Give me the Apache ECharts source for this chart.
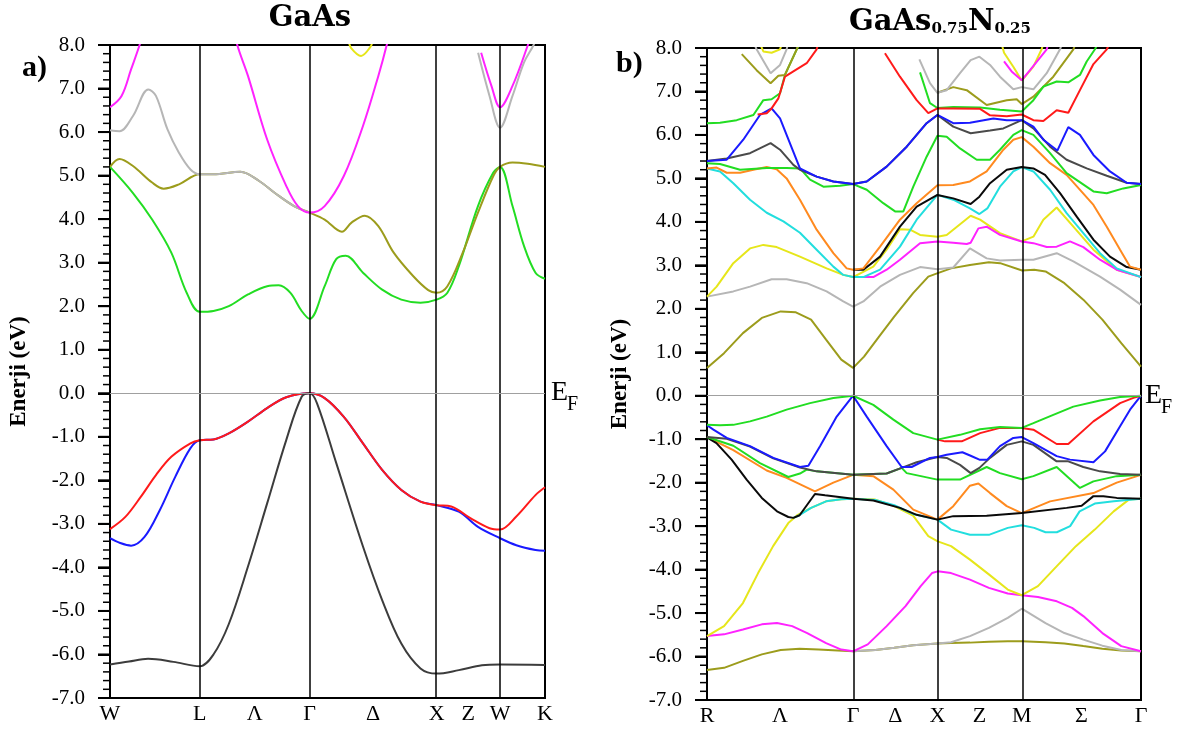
<!DOCTYPE html>
<html>
<head>
<meta charset="utf-8">
<script src="https://cdn.jsdelivr.net/npm/echarts@6/dist/echarts.min.js"></script>
<style>
  html, body { margin: 0; padding: 0; background: #fff; }
  #chart { width: 1184px; height: 733px; }
</style>
</head>
<body>
<div id="chart"></div>
<script>
// k-path, units of 2pi/a
var leftTicks = [0, 0.707, 1.14, 1.573, 2.073, 2.573, 2.823, 3.073, 3.427];
var leftTickNames = ['W', 'L', 'Λ', 'Γ', 'Δ', 'X', 'Z', 'W', 'K'];
var leftLines = [0.707, 1.573, 2.573, 3.073];
var rightTicks = [0, 0.433, 0.866, 1.116, 1.366, 1.616, 1.866, 2.22, 2.573];
var rightTickNames = ['R', 'Λ', 'Γ', 'Δ', 'X', 'Z', 'M', 'Σ', 'Γ'];
var rightLines = [0.866, 1.366, 1.866];
var yRange = [-7, 8];
var yStep = 1;
var yMinorPerStep = 5;

// ---- a) GaAs bands [k, E] ----
var gaasBlack = [[0,-6.23],[0.15,-6.16],[0.30,-6.10],[0.5,-6.17],[0.707,-6.27],[0.815,-6.0],[0.936,-5.3],[1.087,-3.98],[1.238,-2.53],[1.389,-1.07],[1.51,-0.08],[1.573,0],[1.631,-0.23],[1.782,-1.6],[1.993,-3.52],[2.144,-4.75],[2.295,-5.75],[2.446,-6.32],[2.573,-6.44],[2.748,-6.36],[2.93,-6.25],[3.073,-6.23],[3.427,-6.24]];
var gaasBlue = [[0,-3.33],[0.08,-3.44],[0.166,-3.5],[0.272,-3.3],[0.393,-2.68],[0.514,-1.92],[0.634,-1.26],[0.707,-1.08],[0.815,-1.06],[0.936,-0.92],[1.087,-0.65],[1.238,-0.34],[1.389,-0.09],[1.573,0],[1.691,-0.11],[1.842,-0.54],[1.993,-1.15],[2.144,-1.76],[2.295,-2.22],[2.446,-2.49],[2.573,-2.57],[2.748,-2.72],[2.899,-3.07],[3.073,-3.33],[3.201,-3.49],[3.352,-3.6],[3.427,-3.62]];
var gaasRed = [[0,-3.12],[0.121,-2.84],[0.242,-2.38],[0.362,-1.88],[0.483,-1.46],[0.634,-1.15],[0.707,-1.08],[0.815,-1.06],[0.936,-0.92],[1.087,-0.65],[1.238,-0.34],[1.389,-0.09],[1.573,0],[1.691,-0.11],[1.842,-0.54],[1.993,-1.15],[2.144,-1.76],[2.295,-2.22],[2.446,-2.49],[2.573,-2.57],[2.688,-2.6],[2.839,-2.87],[2.99,-3.1],[3.073,-3.13],[3.201,-2.83],[3.352,-2.34],[3.427,-2.16]];
var gaasGreen = [[0,5.2],[0.181,4.6],[0.332,3.99],[0.483,3.23],[0.604,2.31],[0.707,1.87],[0.815,1.89],[0.936,2.0],[1.087,2.27],[1.238,2.46],[1.329,2.48],[1.42,2.31],[1.51,1.89],[1.573,1.71],[1.691,2.46],[1.782,3.08],[1.857,3.16],[1.993,2.77],[2.144,2.38],[2.295,2.15],[2.446,2.08],[2.573,2.15],[2.658,2.31],[2.748,2.92],[2.899,4.3],[3.02,5.07],[3.073,5.2],[3.171,4.3],[3.262,3.38],[3.352,2.77],[3.427,2.63]];
var gaasOlive = [[0,5.2],[0.075,5.38],[0.181,5.22],[0.332,4.84],[0.423,4.7],[0.544,4.8],[0.707,5.03],[0.815,5.03],[1.027,5.09],[1.178,4.87],[1.299,4.6],[1.45,4.3],[1.573,4.15],[1.691,3.99],[1.827,3.71],[1.903,3.92],[2.008,4.08],[2.114,3.84],[2.235,3.23],[2.386,2.7],[2.507,2.37],[2.573,2.31],[2.658,2.46],[2.779,3.23],[2.899,4.15],[3.02,4.99],[3.073,5.2],[3.171,5.3],[3.292,5.27],[3.427,5.2]];
var gaasGray1 = [[0,6.04],[0.075,6.02],[0.181,6.37],[0.302,6.98],[0.362,6.83],[0.453,6.06],[0.544,5.52],[0.634,5.14],[0.707,5.03],[0.815,5.03],[1.027,5.09],[1.178,4.87],[1.299,4.6],[1.45,4.3],[1.573,4.15]];
var gaasGray2 = [[2.90,7.82],[2.99,6.83],[3.073,6.1],[3.171,6.83],[3.262,7.6],[3.337,8.0],[3.36,8.2]];
var gaasMagenta1 = [[0,6.57],[0.091,6.83],[0.166,7.44],[0.233,8.0],[0.26,8.3]];
var gaasMagenta2 = [[0.98,8.4],[1.003,8.0],[1.087,7.29],[1.238,5.83],[1.389,4.76],[1.48,4.3],[1.573,4.15],[1.691,4.3],[1.842,4.99],[1.993,6.14],[2.114,7.29],[2.18,8.0],[2.2,8.3]];
var gaasMagenta3 = [[2.924,7.82],[3.005,7.06],[3.073,6.57],[3.171,7.06],[3.292,8.0],[3.31,8.2]];
var gaasYellow = [[1.88,8.1],[1.90,7.93],[1.978,7.75],[2.05,7.95],[2.07,8.1]];

// ---- b) GaAs0.75N0.25 bands [k, E] ----
var nOliveV = [[0,-6.31],[0.101,-6.26],[0.213,-6.1],[0.325,-5.95],[0.437,-5.85],[0.549,-5.82],[0.662,-5.84],[0.774,-5.86],[0.866,-5.88],[0.998,-5.85],[1.110,-5.8],[1.222,-5.74],[1.366,-5.7],[1.447,-5.69],[1.559,-5.68],[1.671,-5.66],[1.783,-5.65],[1.866,-5.65],[2.007,-5.67],[2.119,-5.7],[2.231,-5.76],[2.344,-5.82],[2.456,-5.86],[2.573,-5.88]];
var nGrayV = [[0.866,-5.88],[0.998,-5.85],[1.110,-5.8],[1.222,-5.74],[1.366,-5.7],[1.447,-5.67],[1.559,-5.53],[1.671,-5.34],[1.783,-5.11],[1.866,-4.9],[2.007,-5.23],[2.119,-5.46],[2.231,-5.61],[2.344,-5.75],[2.456,-5.85],[2.573,-5.88]];
var nMagentaV = [[0,-5.53],[0.101,-5.49],[0.213,-5.38],[0.325,-5.26],[0.415,-5.23],[0.505,-5.3],[0.594,-5.46],[0.706,-5.69],[0.796,-5.84],[0.866,-5.88],[0.953,-5.72],[1.065,-5.3],[1.177,-4.84],[1.267,-4.38],[1.334,-4.08],[1.368,-4.04],[1.447,-4.08],[1.559,-4.23],[1.671,-4.42],[1.783,-4.55],[1.866,-4.59],[1.962,-4.63],[2.074,-4.73],[2.164,-4.88],[2.231,-5.07],[2.344,-5.46],[2.456,-5.76],[2.573,-5.88]];
var nYellowV = [[0,-5.53],[0.101,-5.3],[0.213,-4.77],[0.303,-4.08],[0.392,-3.46],[0.482,-2.93],[0.538,-2.74],[0.617,-2.58],[0.706,-2.43],[0.796,-2.38],[0.866,-2.37],[0.998,-2.39],[1.110,-2.54],[1.222,-2.76],[1.312,-3.23],[1.368,-3.35],[1.447,-3.46],[1.559,-3.77],[1.671,-4.11],[1.783,-4.46],[1.866,-4.59],[1.962,-4.38],[2.074,-3.92],[2.187,-3.46],[2.299,-3.08],[2.411,-2.66],[2.501,-2.39],[2.573,-2.37]];
var nCyanV = [[0.512,-2.81],[0.538,-2.77],[0.617,-2.58],[0.706,-2.43],[0.796,-2.38],[0.866,-2.37],[0.998,-2.4],[1.110,-2.52],[1.222,-2.72],[1.366,-2.85],[1.447,-3.08],[1.559,-3.2],[1.671,-3.2],[1.783,-3.04],[1.866,-2.98],[1.940,-3.04],[2.007,-3.14],[2.074,-3.14],[2.153,-3.0],[2.209,-2.66],[2.299,-2.48],[2.411,-2.43],[2.573,-2.37]];
var nOrangeV = [[0,-0.95],[0.156,-1.25],[0.354,-1.72],[0.472,-1.89],[0.64,-2.2],[0.749,-2.0],[0.866,-1.82],[0.986,-1.85],[1.105,-2.16],[1.223,-2.62],[1.366,-2.85],[1.46,-2.54],[1.559,-2.07],[1.609,-2.02],[1.678,-2.24],[1.777,-2.54],[1.866,-2.7],[2.034,-2.43],[2.291,-2.24],[2.429,-2.0],[2.573,-1.82]];
var nBlackV = [[0,-0.96],[0.056,-1.09],[0.146,-1.47],[0.235,-1.93],[0.325,-2.35],[0.415,-2.66],[0.482,-2.79],[0.512,-2.81],[0.549,-2.75],[0.64,-2.26],[0.70,-2.29],[0.866,-2.37],[0.986,-2.41],[1.144,-2.58],[1.243,-2.74],[1.366,-2.85],[1.460,-2.77],[1.658,-2.76],[1.866,-2.7],[2.132,-2.58],[2.221,-2.53],[2.291,-2.31],[2.350,-2.31],[2.429,-2.35],[2.573,-2.37]];
var nGreen2V = [[0,-0.95],[0.156,-1.15],[0.314,-1.55],[0.482,-1.87],[0.551,-1.79],[0.591,-1.70],[0.650,-1.74],[0.866,-1.82],[1.065,-1.79],[1.154,-1.66],[1.184,-1.78],[1.366,-1.93],[1.5,-1.93],[1.658,-1.64],[1.737,-1.78],[1.866,-1.92],[1.935,-1.85],[2.073,-1.64],[2.211,-2.12],[2.291,-1.97],[2.429,-1.85],[2.573,-1.82]];
var nDarkV = [[0,-0.95],[0.117,-0.99],[0.255,-1.17],[0.393,-1.44],[0.551,-1.65],[0.650,-1.74],[0.866,-1.82],[1.065,-1.79],[1.154,-1.66],[1.243,-1.53],[1.366,-1.41],[1.421,-1.43],[1.50,-1.59],[1.563,-1.78],[1.615,-1.66],[1.678,-1.43],[1.777,-1.13],[1.866,-1.05],[1.935,-1.13],[2.073,-1.51],[2.142,-1.51],[2.231,-1.64],[2.330,-1.74],[2.449,-1.80],[2.573,-1.82]];
var nBlueV = [[0,-0.68],[0.038,-0.78],[0.117,-0.97],[0.255,-1.16],[0.393,-1.43],[0.551,-1.64],[0.601,-1.61],[0.670,-1.16],[0.769,-0.48],[0.866,0],[0.947,-0.48],[1.065,-1.16],[1.154,-1.64],[1.213,-1.64],[1.322,-1.43],[1.366,-1.41],[1.421,-1.36],[1.514,-1.30],[1.563,-1.38],[1.615,-1.47],[1.662,-1.47],[1.737,-1.16],[1.816,-0.97],[1.866,-0.95],[1.935,-1.09],[2.073,-1.39],[2.152,-1.47],[2.291,-1.53],[2.360,-1.28],[2.449,-0.7],[2.508,-0.32],[2.573,0]];
var nRedV = [[1.366,-1.01],[1.411,-1.05],[1.51,-1.05],[1.619,-0.86],[1.737,-0.74],[1.866,-0.74],[1.935,-0.78],[2.073,-1.11],[2.142,-1.11],[2.291,-0.59],[2.449,-0.17],[2.528,-0.05],[2.573,0]];
var nGreenV = [[0,-0.67],[0.077,-0.68],[0.156,-0.67],[0.255,-0.59],[0.354,-0.48],[0.472,-0.32],[0.611,-0.17],[0.749,-0.05],[0.866,0],[0.986,-0.21],[1.105,-0.55],[1.223,-0.86],[1.366,-1.01],[1.5,-0.9],[1.619,-0.77],[1.737,-0.72],[1.866,-0.74],[1.935,-0.63],[2.053,-0.44],[2.172,-0.25],[2.330,-0.11],[2.449,-0.03],[2.573,0]];

var nOliveC = [[0,0.64],[0.101,0.98],[0.213,1.44],[0.325,1.79],[0.437,1.94],[0.527,1.92],[0.617,1.75],[0.706,1.29],[0.796,0.83],[0.866,0.64],[0.931,0.9],[1.020,1.36],[1.110,1.82],[1.222,2.36],[1.312,2.74],[1.368,2.82],[1.447,2.93],[1.559,3.01],[1.671,3.07],[1.738,3.05],[1.868,2.88],[1.940,2.9],[2.007,2.86],[2.119,2.59],[2.231,2.21],[2.344,1.75],[2.456,1.21],[2.573,0.67]];
var nGrayC = [[0,2.28],[0.156,2.4],[0.255,2.51],[0.383,2.68],[0.472,2.68],[0.591,2.59],[0.709,2.4],[0.808,2.17],[0.866,2.05],[0.927,2.17],[1.026,2.51],[1.144,2.78],[1.263,2.96],[1.366,2.91],[1.46,2.95],[1.559,3.39],[1.658,3.16],[1.737,3.11],[1.866,3.13],[1.935,3.13],[2.073,3.28],[2.172,3.09],[2.330,2.74],[2.449,2.44],[2.573,2.09]];
var nYellowC = [[0,2.28],[0.057,2.51],[0.156,3.05],[0.255,3.39],[0.334,3.47],[0.413,3.42],[0.551,3.2],[0.709,2.93],[0.808,2.78],[0.866,2.73],[0.986,2.97],[1.065,3.36],[1.144,3.83],[1.204,3.82],[1.263,3.70],[1.366,3.66],[1.421,3.7],[1.563,4.14],[1.619,4.05],[1.737,3.74],[1.866,3.55],[1.935,3.66],[1.994,4.05],[2.073,4.33],[2.172,3.89],[2.291,3.36],[2.429,2.9],[2.573,2.73]];
var nMagentaC = [[0.866,2.73],[0.986,2.73],[1.065,2.9],[1.144,3.13],[1.263,3.51],[1.366,3.55],[1.460,3.52],[1.540,3.49],[1.563,3.52],[1.609,3.85],[1.658,3.89],[1.737,3.70],[1.866,3.55],[1.935,3.51],[2.014,3.42],[2.073,3.43],[2.152,3.55],[2.231,3.42],[2.330,3.13],[2.429,2.9],[2.573,2.73]];
var nCyanC = [[0,5.23],[0.077,5.16],[0.156,4.89],[0.255,4.51],[0.354,4.21],[0.453,4.01],[0.551,3.75],[0.650,3.36],[0.749,2.97],[0.808,2.78],[0.866,2.73],[0.927,2.73],[1.026,2.9],[1.144,3.43],[1.243,4.05],[1.366,4.62],[1.460,4.51],[1.559,4.31],[1.615,4.18],[1.662,4.31],[1.737,4.81],[1.816,5.16],[1.866,5.26],[1.935,5.16],[2.034,4.74],[2.132,4.2],[2.231,3.74],[2.330,3.28],[2.429,2.93],[2.573,2.73]];
var nBlackC = [[0.866,2.9],[0.927,2.9],[1.026,3.2],[1.144,3.89],[1.243,4.35],[1.366,4.62],[1.460,4.54],[1.563,4.41],[1.615,4.58],[1.678,4.89],[1.777,5.2],[1.866,5.26],[1.935,5.23],[2.004,5.08],[2.093,4.66],[2.192,4.12],[2.291,3.59],[2.389,3.2],[2.488,2.96],[2.573,2.9]];
var nOrangeC = [[0,5.23],[0.057,5.25],[0.117,5.13],[0.196,5.13],[0.275,5.2],[0.354,5.26],[0.413,5.21],[0.472,5.0],[0.551,4.51],[0.650,3.82],[0.749,3.28],[0.828,2.93],[0.866,2.9],[0.927,2.93],[1.026,3.43],[1.144,4.05],[1.243,4.43],[1.366,4.84],[1.460,4.85],[1.559,4.93],[1.658,5.16],[1.757,5.66],[1.816,5.89],[1.866,5.95],[1.935,5.73],[2.034,5.35],[2.132,5.08],[2.291,4.39],[2.370,3.89],[2.449,3.36],[2.508,2.97],[2.573,2.9]];
var nGreenC = [[0,5.35],[0.077,5.33],[0.196,5.2],[0.354,5.24],[0.472,5.24],[0.551,5.23],[0.611,4.97],[0.690,4.81],[0.789,4.83],[0.866,4.87],[0.947,4.74],[1.045,4.43],[1.115,4.24],[1.164,4.24],[1.223,4.81],[1.302,5.5],[1.366,5.98],[1.421,5.96],[1.50,5.69],[1.599,5.43],[1.678,5.43],[1.737,5.66],[1.816,6.0],[1.866,6.11],[1.935,6.0],[2.034,5.58],[2.132,5.12],[2.291,4.7],[2.370,4.66],[2.468,4.77],[2.573,4.85]];
var nDarkC = [[0,5.4],[0.117,5.46],[0.255,5.58],[0.377,5.81],[0.433,5.66],[0.512,5.31],[0.551,5.2],[0.650,5.04],[0.749,4.93],[0.866,4.87],[0.947,4.93],[1.065,5.27],[1.184,5.73],[1.302,6.27],[1.366,6.46],[1.460,6.19],[1.563,6.04],[1.678,6.1],[1.757,6.15],[1.866,6.34],[1.935,6.15],[2.034,5.73],[2.132,5.43],[2.251,5.23],[2.370,5.06],[2.488,4.9],[2.573,4.87]];
var nBlueC = [[0,5.4],[0.117,5.43],[0.215,5.89],[0.314,6.46],[0.383,6.61],[0.433,6.38],[0.551,5.23],[0.650,5.04],[0.749,4.93],[0.866,4.87],[0.947,4.93],[1.065,5.27],[1.184,5.73],[1.302,6.27],[1.366,6.46],[1.460,6.27],[1.559,6.28],[1.698,6.38],[1.777,6.34],[1.866,6.34],[1.935,6.19],[1.994,5.89],[2.077,5.64],[2.142,6.18],[2.211,6.0],[2.291,5.54],[2.389,5.16],[2.488,4.9],[2.573,4.87]];
var nGreenC2 = [[0,6.27],[0.077,6.28],[0.176,6.34],[0.275,6.46],[0.334,6.8],[0.383,6.82],[0.433,6.96],[0.462,7.38],[0.532,7.97],[0.55,8.1]];
var nRedC1 = [[0.30,6.47],[0.354,6.5],[0.383,6.61],[0.423,6.84],[0.462,7.34],[0.512,7.46],[0.591,7.65],[0.650,7.97],[0.66,8.1]];
var nOliveT1 = [[0.206,7.86],[0.294,7.49],[0.377,7.19],[0.423,7.36],[0.462,7.38],[0.532,7.97],[0.54,8.05]];
var nGrayT1 = [[0.28,8.1],[0.294,7.97],[0.377,7.42],[0.433,7.61],[0.472,7.97],[0.48,8.1]];
var nYellowT1 = [[0.32,8.05],[0.334,7.92],[0.383,7.89],[0.433,7.97],[0.44,8.05]];
var nRedC2 = [[1.055,7.88],[1.144,7.34],[1.243,6.8],[1.312,6.5],[1.366,6.61],[1.460,6.61],[1.619,6.6],[1.678,6.45],[1.777,6.43],[1.866,6.47],[1.935,6.34],[1.994,6.32],[2.073,6.57],[2.142,6.51],[2.211,7.03],[2.291,7.63],[2.370,7.97],[2.38,8.05]];
var nGreenC3 = [[1.263,7.44],[1.322,6.73],[1.366,6.62],[1.460,6.64],[1.619,6.63],[1.737,6.58],[1.866,6.54],[1.935,6.8],[1.994,7.11],[2.073,7.23],[2.142,7.21],[2.211,7.38],[2.251,7.69],[2.300,7.97],[2.31,8.05]];
var nGrayT2 = [[1.259,7.74],[1.322,7.19],[1.366,6.97],[1.421,7.03],[1.5,7.42],[1.563,7.72],[1.615,7.8],[1.678,7.61],[1.737,7.34],[1.816,7.05],[1.866,7.1],[1.935,7.05],[2.014,7.42],[2.093,7.97],[2.1,8.05]];
var nOliveT2 = [[1.366,6.97],[1.460,7.1],[1.540,7.03],[1.658,6.69],[1.777,6.8],[1.836,6.82],[1.866,6.71],[1.935,6.88],[2.053,7.34],[2.172,7.97],[2.18,8.05]];
var nYellowT2 = [[1.75,8.05],[1.761,7.89],[1.816,7.57],[1.866,7.25],[1.935,7.57],[1.984,7.97],[1.99,8.05]];
var nMagentaT2 = [[1.761,7.69],[1.806,7.46],[1.866,7.26],[1.915,7.49],[2.014,7.97],[2.02,8.05]];

var C = {
  black: '#3c3c3c', red: '#ff1a1a', blue: '#1a1aff', green: '#22dd22', olive: '#9c9c1c',
  gray: '#b6b6b6', magenta: '#ff22ff', yellow: '#e6e61a', orange: '#ff8a1f', cyan: '#22dede',
  dark: '#4a4a4a', ink: '#0a0a0a'
};

var leftBands = [
  [gaasBlue, C.blue], [gaasRed, C.red], [gaasBlack, C.black],
  [gaasGreen, C.green], [gaasOlive, C.olive], [gaasGray1, C.gray], [gaasGray2, C.gray],
  [gaasMagenta1, C.magenta], [gaasMagenta2, C.magenta], [gaasMagenta3, C.magenta], [gaasYellow, C.yellow]
];
var rightBands = [
  [nOliveV, C.olive], [nGrayV, C.gray], [nMagentaV, C.magenta], [nYellowV, C.yellow], [nCyanV, C.cyan],
  [nOrangeV, C.orange], [nBlackV, C.ink], [nGreen2V, C.green], [nDarkV, C.dark], [nBlueV, C.blue],
  [nRedV, C.red], [nGreenV, C.green],
  [nOliveC, C.olive], [nGrayC, C.gray], [nYellowC, C.yellow], [nMagentaC, C.magenta], [nCyanC, C.cyan],
  [nBlackC, C.ink], [nOrangeC, C.orange], [nGreenC, C.green], [nDarkC, C.dark], [nBlueC, C.blue],
  [nGreenC2, C.green], [nRedC1, C.red], [nOliveT1, C.olive], [nGrayT1, C.gray], [nYellowT1, C.yellow],
  [nOliveT2, C.olive], [nGrayT2, C.gray], [nGreenC3, C.green], [nRedC2, C.red],
  [nYellowT2, C.yellow], [nMagentaT2, C.magenta]
];

var serif = '"Liberation Serif", "DejaVu Serif", serif';
var majorLen = 12, minorLen = 7;

function tickName(ticks, names) {
  return function (v) {
    for (var i = 0; i < ticks.length; i++) {
      if (Math.abs(ticks[i] - v) < 1e-6) return names[i];
    }
    return '';
  };
}

function makeX(i, maxK, ticks, names) {
  return {
    gridIndex: i, type: 'value', min: 0, max: maxK,
    axisLine: { show: true, onZero: false, lineStyle: { color: '#000', width: 2 } },
    axisTick: { show: false },
    splitLine: { show: false },
    axisLabel: {
      customValues: ticks, formatter: tickName(ticks, names),
      showMinLabel: true, showMaxLabel: true,
      fontFamily: serif, fontSize: 22, color: '#000', margin: 5
    }
  };
}

function makeY(i, gap) {
  return {
    gridIndex: i, type: 'value', position: 'left', min: yRange[0], max: yRange[1], interval: yStep,
    axisLine: { show: true, onZero: false, lineStyle: { color: '#000', width: 2 } },
    axisTick: { show: true, inside: false, length: majorLen, lineStyle: { color: '#000', width: 2 } },
    splitLine: { show: false },
    axisLabel: {
      show: true,
      formatter: function (v) { return v.toFixed(1); },
      fontFamily: serif, fontSize: 21, color: '#000', margin: 25
    },
    name: 'Enerji (eV)', nameLocation: 'middle', nameRotate: 90, nameGap: gap,
    nameTextStyle: { fontFamily: serif, fontWeight: 'bold', fontSize: 23, color: '#000' }
  };
}

function guides(lines) {
  var d = lines.map(function (v) {
    return { xAxis: v, lineStyle: { color: '#000', width: 1.5, type: 'solid' } };
  });
  d.push({ yAxis: 0, lineStyle: { color: '#a0a0a0', width: 1, type: 'solid' } });
  return { silent: true, symbol: ['none', 'none'], label: { show: false }, data: d, animation: false };
}

var series = [];
function addBands(list, gi, smooth, lines) {
  list.forEach(function (b, j) {
    var s = {
      type: 'line', xAxisIndex: gi, yAxisIndex: gi, data: b[0],
      showSymbol: false, smooth: smooth, clip: true,
      lineStyle: { color: b[1], width: 2 }, itemStyle: { color: b[1] },
      silent: true, animation: false
    };
    if (j === 0) s.markLine = guides(lines);
    series.push(s);
  });
}
addBands(leftBands, 0, 0.35, leftLines);
addBands(rightBands, 1, false, rightLines);

var titleFont = '"DejaVu Serif", "Liberation Serif", serif';
var texts = [
  { type: 'text', x: 310, y: 18, style: { text: 'GaAs', font: 'bold 29px ' + titleFont, fill: '#000', align: 'center', verticalAlign: 'middle', textAlign: 'center', textVerticalAlign: 'middle' } },
  { type: 'text', x: 940, y: 21, style: {
      text: '{b|GaAs}{s|0.75}{b|N}{s|0.25}', align: 'center', verticalAlign: 'middle', textAlign: 'center', textVerticalAlign: 'middle',
      rich: {
        b: { font: 'bold 29px ' + titleFont, fill: '#000', lineHeight: 32, verticalAlign: 'bottom' },
        s: { font: 'bold 15px ' + titleFont, fill: '#000', lineHeight: 26, verticalAlign: 'bottom' }
      } } },
  { type: 'text', x: 22, y: 68, style: { text: 'a)', font: 'bold 30px ' + serif, fill: '#000', verticalAlign: 'middle', textVerticalAlign: 'middle' } },
  { type: 'text', x: 616, y: 64, style: { text: 'b)', font: 'bold 30px ' + serif, fill: '#000', verticalAlign: 'middle', textVerticalAlign: 'middle' } },
  { type: 'text', x: 551, y: 393, style: { text: 'E', font: '28px ' + serif, fill: '#000', verticalAlign: 'middle', textVerticalAlign: 'middle' } },
  { type: 'text', x: 567, y: 405, style: { text: 'F', font: '20px ' + serif, fill: '#000', verticalAlign: 'middle', textVerticalAlign: 'middle' } },
  { type: 'text', x: 1145, y: 396, style: { text: 'E', font: '28px ' + serif, fill: '#000', verticalAlign: 'middle', textVerticalAlign: 'middle' } },
  { type: 'text', x: 1161, y: 408, style: { text: 'F', font: '20px ' + serif, fill: '#000', verticalAlign: 'middle', textVerticalAlign: 'middle' } }
];

var chart = echarts.init(document.getElementById('chart'), null, { renderer: 'canvas' });
chart.setOption({
  animation: false,
  backgroundColor: '#fff',
  grid: [
    { left: 110, top: 45, width: 435, height: 653, show: true, borderColor: '#000', borderWidth: 2, backgroundColor: 'transparent' },
    { left: 707, top: 48, width: 434, height: 652, show: true, borderColor: '#000', borderWidth: 2, backgroundColor: 'transparent' }
  ],
  xAxis: [makeX(0, 3.427, leftTicks, leftTickNames), makeX(1, 2.573, rightTicks, rightTickNames)],
  yAxis: [makeY(0, 79), makeY(1, 75)],
  series: series,
  graphic: texts
});

// energy tick comb on each panel's left edge: thin filled bars placed through the axis scale
var comb = [];
[0, 1].forEach(function (gi) {
  var n = (yRange[1] - yRange[0]) / yStep * yMinorPerStep;
  for (var i = 0; i <= n; i++) {
    var v = yRange[0] + i * yStep / yMinorPerStep;
    var p = chart.convertToPixel({ gridIndex: gi }, [0, v]);
    if (!p) continue;
    var major = i % yMinorPerStep === 0;
    var len = major ? majorLen : minorLen;
    var h = major ? 2 : 1.5;
    comb.push({
      type: 'rect', z: 100, silent: true,
      shape: { x: p[0] - len, y: p[1] - h / 2, width: len, height: h },
      style: { fill: '#000' }
    });
  }
});
chart.setOption({ graphic: texts.concat(comb) });
</script>
</body>
</html>
